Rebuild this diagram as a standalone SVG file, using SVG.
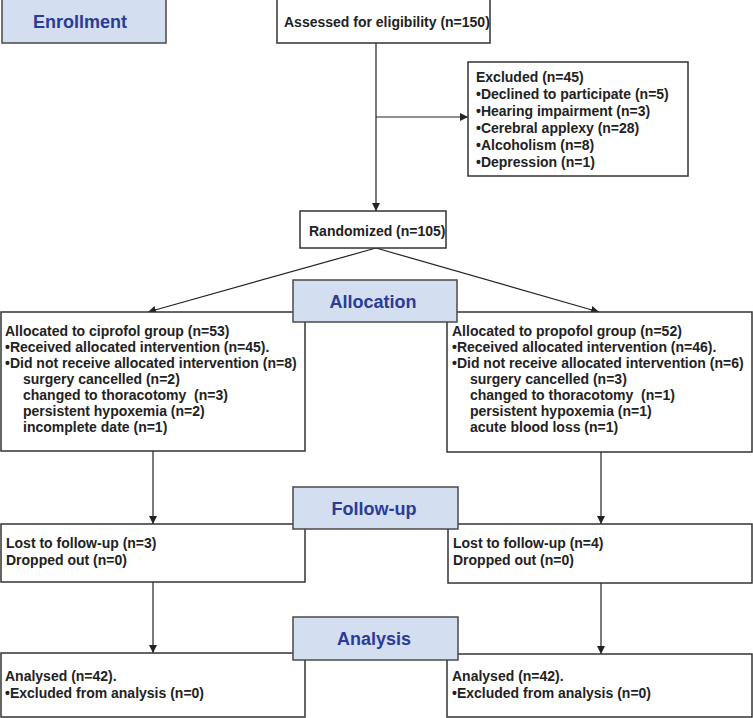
<svg xmlns="http://www.w3.org/2000/svg" width="753" height="718" viewBox="0 0 753 718">
<defs>
<style>
.box{fill:#ffffff;stroke:#333333;stroke-width:1.5}
.lbl{fill:#d3def0;stroke:#4a4a4a;stroke-width:1.5}
.t{font-family:"Liberation Sans",Arial,sans-serif;font-weight:bold;font-size:14px;fill:#222222;white-space:pre}
.h{font-family:"Liberation Sans",Arial,sans-serif;font-weight:bold;font-size:18px;fill:#2a3c96;text-anchor:middle}
.c{stroke:#222222;stroke-width:1.2;fill:none}
</style>
<marker id="ah" viewBox="0 0 10 10" refX="10" refY="5" markerWidth="8" markerHeight="8" markerUnits="userSpaceOnUse" orient="auto">
<path d="M0,0 L10,5 L0,10 z" fill="#222222"/>
</marker>
</defs>
<rect width="753" height="718" fill="#ffffff"/>

<g id="connectors">
<line class="c" x1="376" y1="43" x2="376" y2="211" marker-end="url(#ah)"/>
<line class="c" x1="376" y1="117" x2="468" y2="117" marker-end="url(#ah)"/>
<line class="c" x1="376" y1="248" x2="148" y2="312" marker-end="url(#ah)"/>
<line class="c" x1="376" y1="248" x2="599" y2="312" marker-end="url(#ah)"/>
<line class="c" x1="153" y1="451" x2="153" y2="524" marker-end="url(#ah)"/>
<line class="c" x1="601" y1="452" x2="601" y2="524" marker-end="url(#ah)"/>
<line class="c" x1="153" y1="582" x2="153" y2="653" marker-end="url(#ah)"/>
<line class="c" x1="601" y1="583" x2="601" y2="654" marker-end="url(#ah)"/>
</g>

<g id="assessed">
<rect class="box" x="277" y="-1" width="213" height="44"/>
<text class="t" x="284" y="27">Assessed for eligibility (n=150)</text>
</g>

<g id="excluded">
<rect class="box" x="468" y="62" width="220" height="114"/>
<text class="t" x="476" y="82">Excluded (n=45)</text>
<text class="t" x="476" y="99">•Declined to participate (n=5)</text>
<text class="t" x="476" y="116">•Hearing impairment (n=3)</text>
<text class="t" x="476" y="133">•Cerebral applexy (n=28)</text>
<text class="t" x="476" y="150">•Alcoholism (n=8)</text>
<text class="t" x="476" y="167">•Depression (n=1)</text>
</g>

<g id="randomized">
<rect class="box" x="300" y="211" width="146" height="37"/>
<text class="t" x="309" y="236">Randomized (n=105)</text>
</g>

<g id="alloc-left">
<rect class="box" x="1" y="312" width="304" height="139"/>
<text class="t" x="5" y="336">Allocated to ciprofol group (n=53)</text>
<text class="t" x="5" y="352">•Received allocated intervention (n=45).</text>
<text class="t" x="5" y="368">•Did not receive allocated intervention (n=8)</text>
<text class="t" x="23" y="384">surgery cancelled (n=2)</text>
<text class="t" x="23" y="400" xml:space="preserve">changed to thoracotomy  (n=3)</text>
<text class="t" x="23" y="416">persistent hypoxemia (n=2)</text>
<text class="t" x="23" y="432">incomplete date (n=1)</text>
</g>

<g id="alloc-right">
<rect class="box" x="447" y="312" width="305" height="140"/>
<text class="t" x="452" y="336">Allocated to propofol group (n=52)</text>
<text class="t" x="452" y="352">•Received allocated intervention (n=46).</text>
<text class="t" x="452" y="368">•Did not receive allocated intervention (n=6)</text>
<text class="t" x="470" y="384">surgery cancelled (n=3)</text>
<text class="t" x="470" y="400" xml:space="preserve">changed to thoracotomy  (n=1)</text>
<text class="t" x="470" y="416">persistent hypoxemia (n=1)</text>
<text class="t" x="470" y="432">acute blood loss (n=1)</text>
</g>

<g id="follow-left">
<rect class="box" x="1" y="524" width="304" height="58"/>
<text class="t" x="6" y="548">Lost to follow-up (n=3)</text>
<text class="t" x="6" y="565">Dropped out (n=0)</text>
</g>

<g id="follow-right">
<rect class="box" x="448" y="524" width="304" height="59"/>
<text class="t" x="453" y="548">Lost to follow-up (n=4)</text>
<text class="t" x="453" y="565">Dropped out (n=0)</text>
</g>

<g id="analysis-left">
<rect class="box" x="1" y="653" width="304" height="64"/>
<text class="t" x="5" y="681">Analysed (n=42).</text>
<text class="t" x="5" y="698">•Excluded from analysis (n=0)</text>
</g>

<g id="analysis-right">
<rect class="box" x="447" y="654" width="305" height="63"/>
<text class="t" x="452" y="681">Analysed (n=42).</text>
<text class="t" x="452" y="698">•Excluded from analysis (n=0)</text>
</g>

<g id="label-enrollment">
<rect class="lbl" x="2" y="-1" width="164" height="44"/>
<text class="h" x="80" y="28">Enrollment</text>
</g>

<g id="label-allocation">
<rect class="lbl" x="293" y="280" width="164" height="42"/>
<text class="h" x="373" y="308">Allocation</text>
</g>

<g id="label-followup">
<rect class="lbl" x="293" y="487" width="165" height="42"/>
<text class="h" x="374" y="515">Follow-up</text>
</g>

<g id="label-analysis">
<rect class="lbl" x="293" y="617" width="165" height="43"/>
<text class="h" x="374" y="645">Analysis</text>
</g>
</svg>
